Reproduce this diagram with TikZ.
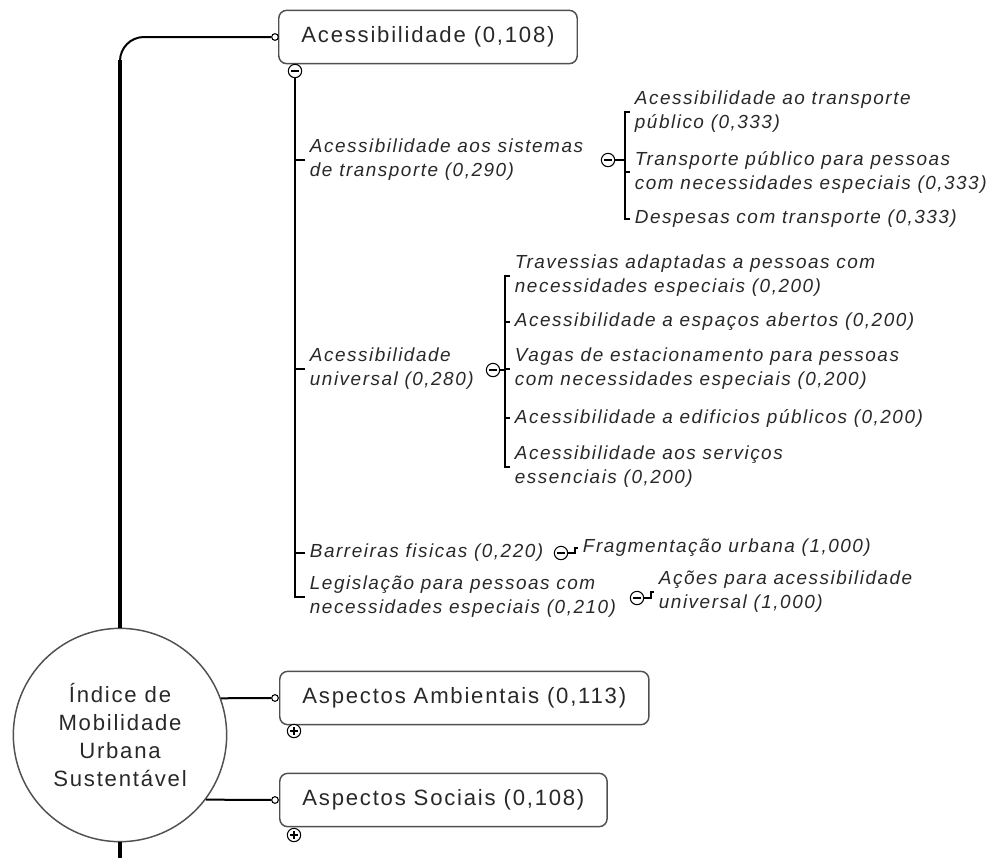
\documentclass[tikz,border=0pt]{standalone}
\usepackage{fontspec}
\setmainfont{Liberation Sans}[LetterSpace=8]
\usetikzlibrary{positioning}
\definecolor{inkgray}{RGB}{40,40,40}
\definecolor{rimgray}{RGB}{80,80,80}
\newcommand{\mapfont}{\fontsize{16.6}{21}\selectfont}
\newcommand{\leaffont}{\fontsize{14.2}{18}\selectfont\itshape}

\begin{document}
\begin{tikzpicture}[x=0.75pt,y=-0.75pt,
	topic/.style={draw=rimgray,line width=1.1pt,rounded corners=6pt,minimum height=40pt,inner xsep=17pt,anchor=west,font=\mapfont,text=inkgray},
	leaf/.style={anchor=west,align=left,inner xsep=3.5pt,inner ysep=1pt,font=\leaffont,text=inkgray},
	pinhole/.style={circle,draw=black,fill=white,line width=0.8pt,inner sep=0pt,minimum size=5pt},
	fold/.style={circle,draw=black,fill=white,line width=0.8pt,inner sep=0pt,minimum size=10pt,
		path picture={\draw[line width=0.8pt] ([xshift=2.2pt]path picture bounding box.west) -- ([xshift=-2.2pt]path picture bounding box.east);}},
	unfold/.style={circle,draw=black,fill=white,line width=0.8pt,inner sep=0pt,minimum size=10pt,
		path picture={\draw[line width=0.8pt] ([xshift=2.2pt]path picture bounding box.west) -- ([xshift=-2.2pt]path picture bounding box.east);
			\draw[line width=0.8pt] ([yshift=2.2pt]path picture bounding box.south) -- ([yshift=-2.2pt]path picture bounding box.north);}},
	trunk/.style={line width=3pt,draw=black},
	bough/.style={line width=1.5pt,draw=black},
	twig/.style={line width=0.8pt,draw=black}]
	\useasboundingbox (0,0) rectangle (999,858);
	
	\node[circle,draw=rimgray,line width=1.1pt,minimum size=160pt,inner sep=0pt,align=center,font=\mapfont,text=inkgray] (root) at (120,735) {Índice de\\Mobilidade\\Urbana\\Sustentável};
	
	\node[topic] (acc) at (278,37) {Acessibilidade (0,108)};
	\node[topic] (amb) at (279,698) {Aspectos Ambientais (0,113)};
	\node[topic] (soc) at (279,800) {Aspectos Sociais (0,108)};
	
	\node[pinhole] (pacc) at (275,37) {};
	\node[pinhole] (pamb) at (275,698) {};
	\node[pinhole] (psoc) at (275,800) {};
	
	\coordinate (bend) at (120,60);
	\coordinate (tail) at (120,858);
	\draw[bough,rounded corners=18pt] (root.north) |- (pacc);
	\draw[trunk] (root.north) -- (bend);
	\draw[trunk] (root.south) -- (tail);
	\draw[bough] (root.20) -- (pamb);
	\draw[bough] (root.-37) -- (psoc);
	
	\node[fold] (accfold) at (295,71) {};
	\node[unfold] (ambfold) at (294,731) {};
	\node[unfold] (socfold) at (294,835) {};
	
	\node[leaf] (sis) at (305,160) {Acessibilidade aos sistemas\\de transporte (0,290)};
	\node[leaf] (uni) at (305,369) {Acessibilidade\\universal (0,280)};
	\node[leaf] (bar) at (305,553) {Barreiras fisicas (0,220)};
	\node[leaf] (leg) at (305,597) {Legislação para pessoas com\\necessidades especiais (0,210)};
	
	\draw[twig] (accfold) |- (leg);
	\draw[twig] (accfold |- sis) -- (sis);
	\draw[twig] (accfold |- uni) -- (uni);
	\draw[twig] (accfold |- bar) -- (bar);
	
	\node[fold] (sisfold) at (608,160) {};
	\coordinate (sisbar) at (625,160);
	\node[leaf] (s1) at (630,112) {Acessibilidade ao transporte\\público (0,333)};
	\node[leaf] (s2) at (630,172) {Transporte público para pessoas\\com necessidades especiais (0,333)};
	\node[leaf] (s3) at (630,219) {Despesas com transporte (0,333)};
	\draw[twig] (sisfold) -- (sisbar);
	\draw[twig] (s1) -| (sisbar) |- (s3);
	\draw[twig] (sisbar |- s2) -- (s2);
	
	\node[fold] (unifold) at (493,370) {};
	\coordinate (unibar) at (505,370);
	\node[leaf] (u1) at (510,276) {Travessias adaptadas a pessoas com\\necessidades especiais (0,200)};
	\node[leaf] (u2) at (510,322) {Acessibilidade a espaços abertos (0,200)};
	\node[leaf] (u3) at (510,369) {Vagas de estacionamento para pessoas\\com necessidades especiais (0,200)};
	\node[leaf] (u4) at (510,418) {Acessibilidade a edificios públicos (0,200)};
	\node[leaf] (u5) at (510,467) {Acessibilidade aos serviços\\essenciais (0,200)};
	\draw[twig] (unifold) -- (unibar);
	\draw[twig] (u1) -| (unibar) |- (u5);
	\draw[twig] (unibar |- u2) -- (u2);
	\draw[twig] (unibar |- u3) -- (u3);
	\draw[twig] (unibar |- u4) -- (u4);
	
	\node[fold] (barfold) at (561,553) {};
	\coordinate (barbar) at (575,553);
	\node[leaf] (frag) at (578,548) {Fragmentação urbana (1,000)};
	\draw[twig] (barfold) -- (barbar) |- (frag);
	
	\node[fold] (legfold) at (637,598) {};
	\coordinate (legbar) at (651,598);
	\node[leaf] (acoes) at (654,592) {Ações para acessibilidade\\universal (1,000)};
	\draw[twig] (legfold) -- (legbar) |- (acoes);
\end{tikzpicture}
\end{document}
